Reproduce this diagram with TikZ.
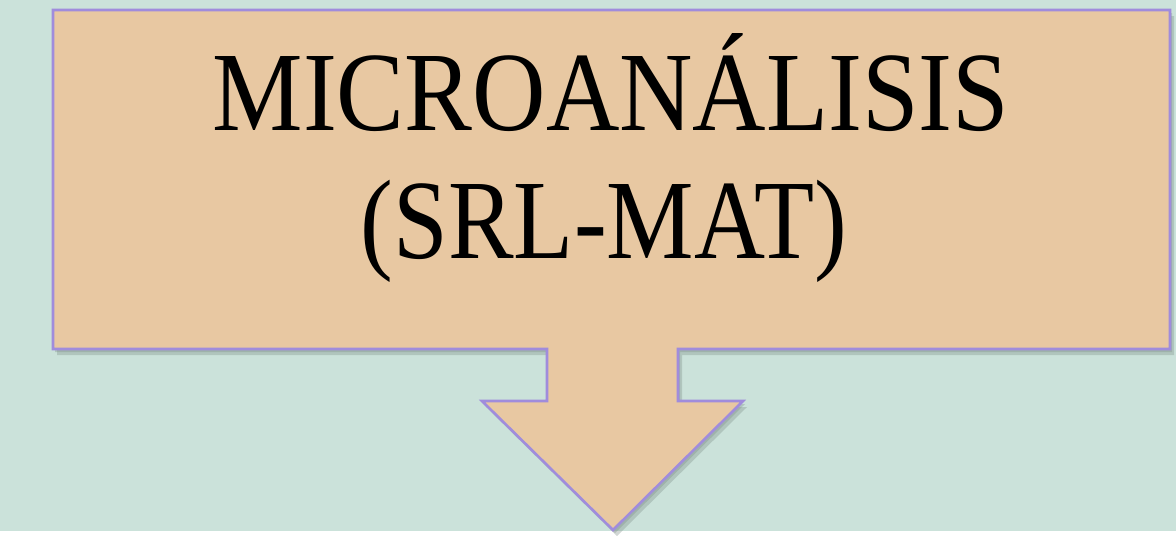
\documentclass[tikz,border=0pt]{standalone}
\usepackage{fontspec}
\setmainfont{Liberation Serif}
\definecolor{bgteal}{HTML}{CBE2DA}
\definecolor{boxfill}{HTML}{E8C8A2}
\definecolor{boxline}{HTML}{A08CDC}
\definecolor{shadowc}{HTML}{7F8F89}
\tikzset{
  calloutbox/.style={fill=boxfill, draw=boxline, line width=2.6pt, line join=miter},
  calloutshadow/.style={fill=shadowc, opacity=0.35},
  bigtext/.style={anchor=base, inner sep=0pt, font=\fontsize{113}{130}\selectfont}
}
\begin{document}
\begin{tikzpicture}[x=1pt,y=-1pt]
\useasboundingbox (0,0) rectangle (1176,536);
\fill[white] (0,0) rectangle (1176,536);
\fill[bgteal] (0,0) rectangle (1176,531);
% shadow (two soft layers)
\foreach \dx/\dy in {2/3, 4/6}{
\fill[calloutshadow, shift={(\dx,\dy)}]
  (53,10) -- (1170,10) -- (1170,349) -- (678,349) -- (678,401) -- (743,401)
  -- (613,530) -- (482,401) -- (547,401) -- (547,349) -- (53,349) -- cycle;
}
% callout
\draw[calloutbox]
  (53,10) -- (1170,10) -- (1170,349) -- (678,349) -- (678,401) -- (743,401)
  -- (613,530) -- (482,401) -- (547,401) -- (547,349) -- (53,349) -- cycle;
\node[bigtext] (l1) at (611,130) {\scalebox{0.9}[1]{MICROANÁLISIS}};
\node[bigtext] (l2) at (604,258) {\scalebox{0.87}[1]{(SRL-MAT)}};
\end{tikzpicture}
\end{document}
